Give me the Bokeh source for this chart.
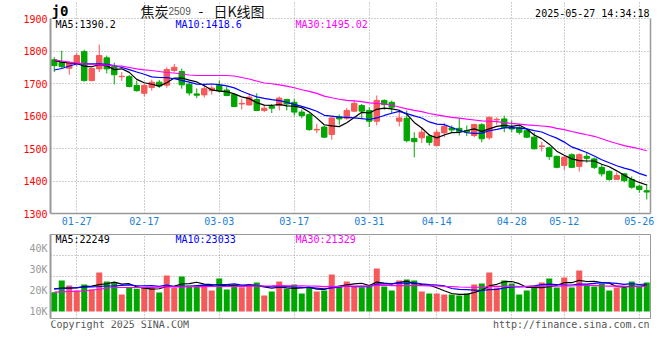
import numpy as np
import pandas as pd
from bokeh.plotting import figure
from bokeh.layouts import column
from bokeh.models import Range1d, FixedTicker, Label, LinearAxis, ColumnDataSource
from bokeh.embed import file_html
from bokeh.resources import INLINE

# ---------------- data ----------------
dates = ["01-22", "01-23", "01-24", "01-27",
         "02-05", "02-06", "02-07", "02-10", "02-11", "02-12", "02-13", "02-14",
         "02-17", "02-18", "02-19", "02-20", "02-21", "02-24", "02-25", "02-26", "02-27", "02-28",
         "03-03", "03-04", "03-05", "03-06", "03-07", "03-10", "03-11", "03-12", "03-13", "03-14",
         "03-17", "03-18", "03-19", "03-20", "03-21", "03-24", "03-25", "03-26", "03-27", "03-28",
         "03-31", "04-01", "04-02", "04-03", "04-07", "04-08", "04-09", "04-10", "04-11",
         "04-14", "04-15", "04-16", "04-17", "04-18", "04-21", "04-22", "04-23", "04-24", "04-25",
         "04-28", "04-29", "04-30", "05-06", "05-07", "05-08", "05-09",
         "05-12", "05-13", "05-14", "05-15", "05-16", "05-19", "05-20", "05-21", "05-22", "05-23",
         "05-26", "05-27"]

open_ = [1773, 1765, 1747, 1761, 1798, 1709, 1745, 1779, 1752, 1721,
         1721, 1694, 1670, 1688, 1704, 1695, 1740, 1737, 1698, 1668,
         1665, 1678, 1694, 1680, 1666, 1637, 1634, 1651, 1617, 1629,
         1632, 1651, 1642, 1612, 1604, 1557, 1566, 1543, 1598, 1593,
         1615, 1632, 1617, 1584, 1648, 1642, 1584, 1593, 1531, 1533,
         1538, 1509, 1548, 1563, 1562, 1555, 1540, 1573, 1533, 1588,
         1591, 1565, 1565, 1555, 1535, 1506, 1502, 1476, 1448, 1481,
         1445, 1476, 1468, 1442, 1430, 1405, 1422, 1405, 1384, 1370]
high = [1781, 1801, 1768, 1795, 1804, 1748, 1820, 1786, 1764, 1735,
        1726, 1709, 1699, 1712, 1711, 1750, 1760, 1746, 1703, 1685,
        1696, 1694, 1709, 1691, 1670, 1653, 1670, 1670, 1634, 1637,
        1660, 1653, 1653, 1620, 1610, 1576, 1571, 1598, 1605, 1625,
        1648, 1637, 1627, 1663, 1651, 1648, 1617, 1617, 1550, 1565,
        1545, 1558, 1579, 1571, 1594, 1571, 1576, 1578, 1598, 1596,
        1601, 1586, 1576, 1561, 1550, 1521, 1506, 1478, 1478, 1485,
        1485, 1488, 1472, 1450, 1432, 1427, 1425, 1414, 1389, 1391]
low = [1735, 1747, 1727, 1752, 1706, 1707, 1735, 1731, 1697, 1708,
       1688, 1675, 1660, 1678, 1686, 1687, 1735, 1684, 1663, 1655,
       1657, 1666, 1673, 1661, 1627, 1620, 1632, 1615, 1612, 1609,
       1617, 1617, 1601, 1593, 1555, 1547, 1532, 1527, 1573, 1588,
       1612, 1594, 1566, 1571, 1619, 1609, 1568, 1519, 1473, 1517,
       1509, 1507, 1535, 1550, 1540, 1538, 1535, 1519, 1527, 1573,
       1550, 1550, 1543, 1532, 1497, 1491, 1465, 1439, 1434, 1440,
       1429, 1456, 1437, 1414, 1401, 1404, 1396, 1376, 1364, 1343]
close = [1755, 1752, 1764, 1786, 1709, 1746, 1786, 1745, 1727, 1722,
         1691, 1678, 1694, 1704, 1692, 1743, 1750, 1696, 1671, 1664,
         1684, 1686, 1678, 1663, 1629, 1639, 1658, 1617, 1624, 1624,
         1655, 1637, 1612, 1601, 1558, 1559, 1535, 1594, 1591, 1617,
         1639, 1615, 1584, 1648, 1635, 1627, 1594, 1524, 1521, 1550,
         1519, 1550, 1568, 1557, 1552, 1550, 1574, 1530, 1596, 1590,
         1565, 1560, 1550, 1535, 1499, 1508, 1475, 1442, 1473, 1442,
         1481, 1470, 1442, 1422, 1405, 1417, 1401, 1381, 1374, 1366]
volume = [19190, 24760, 22380, 19860, 22860, 20480, 28570, 24290, 23810, 18100,
          21430, 20810, 21570, 21290, 19050, 27140, 21290, 26670, 22380, 22240,
          22710, 20000, 25710, 20480, 22860, 21570, 22860, 23810, 17620, 19520,
          24290, 20810, 22860, 18570, 21430, 19520, 20000, 27620, 21900, 24290,
          21900, 21570, 21900, 30480, 21900, 20000, 24760, 25240, 24760, 19520,
          18570, 18570, 18100, 18100, 17620, 18570, 22860, 23330, 28570, 21430,
          24760, 23330, 18100, 20000, 21430, 23810, 25710, 21430, 26190, 21430,
          29520, 22860, 21900, 23330, 20000, 21430, 21430, 24290, 22380, 23810]

# moving-average values at the left edge (earlier history is not on the chart)
ma5_lead = [1770.8, 1766.0, 1763.0, 1761.5]
ma10_lead = [1741.5, 1746.2, 1753.8, 1760.0, 1760.6, 1760.6, 1760.6, 1759.0, 1755.4]
ma30_lead = [1772.9, 1769.2, 1765.5, 1763.1, 1760.6, 1758.5, 1757.5, 1756.3, 1754.5, 1753.2,
             1749.2, 1745.2, 1742.2, 1740.0, 1736.9, 1733.8, 1732.3, 1729.2, 1726.2, 1724.6,
             1724.6, 1724.6, 1724.6, 1724.6, 1723.1, 1718.5, 1713.8, 1707.7, 1701.5]
vma5_lead = [20810, 21100, 21100, 21290]
vma10_lead = [20810, 20950, 21190, 21430, 21570, 21760, 21900, 22140, 22140]
vma30_lead = [19190, 19380, 19520, 19670, 19760, 20240, 20480, 21190, 21430, 21430,
              21430, 21430, 21430, 21520, 21620, 21710, 21760, 21760, 21810, 21810,
              21860, 21900, 21900, 21900, 21950, 22000, 22050, 22100, 22140]

tick_dates = ["01-27", "02-17", "03-03", "03-17", "03-31", "04-14", "04-28", "05-12", "05-26"]
price_ticks = [1300, 1400, 1500, 1600, 1700, 1800, 1900]
vol_ticks = [10000, 20000, 30000, 40000]
vol_tick_labels = ["10K", "20K", "30K", "40K"]

code_text = "j0"
title_parts = ["焦炭", "2509", "-", "日K线图"]
time_text = "2025-05-27 14:34:18"
price_ma_texts = ["MA5:1390.2", "MA10:1418.6", "MA30:1495.02"]
vol_ma_texts = ["MA5:22249", "MA10:23033", "MA30:21329"]
copyright_text = "Copyright 2025 SINA.COM"
url_text = "http://finance.sina.com.cn"

# ---------------- styling / layout ----------------
RED = "#f65959"
GREEN = "#00a600"
GRID = "#a0a0a0"
BORDER = "#999999"
MONO = "DejaVu Sans Mono"
CJK = "Noto Sans CJK SC"
MA_COLORS = ["#000000", "#0000ff", "#ff00ff"]
W = 658
LEFT, RIGHT = 50, 8
FRAME_W = W - LEFT - RIGHT
HEADER_PX = 18      # header strip above the 1900 line
PRICE_PX = 195      # height of the price area (1300..1900)
BOTTOM_PX = 16

n = len(dates)
x = np.arange(n)
o = np.array(open_, float)
c = np.array(close, float)
cols = np.where(c >= o, RED, GREEN)


def ma(series, w, lead):
    m = pd.Series(series, dtype=float).rolling(w).mean().to_numpy()
    m[:len(lead)] = lead
    return m


pma = [ma(close, 5, ma5_lead), ma(close, 10, ma10_lead), ma(close, 30, ma30_lead)]
vma = [ma(volume, 5, vma5_lead), ma(volume, 10, vma10_lead), ma(volume, 30, vma30_lead)]

src = ColumnDataSource(dict(x=x, o=o, c=c, h=high, l=low,
                            top=np.maximum(o, c), bot=np.minimum(o, c),
                            col=cols, vol=volume))

tick_pos = [dates.index(d) for d in tick_dates]


def style_grid(fig):
    for g in (fig.xgrid, fig.ygrid):
        g.grid_line_color = GRID
        g.grid_line_dash = "1 2"
        g.grid_line_width = 1


def style_yaxis(ax, color):
    ax.major_label_text_color = color
    ax.major_label_text_font = MONO
    ax.major_label_text_font_size = "10px"
    ax.major_tick_line_color = None
    ax.minor_tick_line_color = None
    ax.major_tick_out = 0
    ax.major_tick_in = 0
    ax.major_label_standoff = 3
    ax.axis_line_color = BORDER
    ax.axis_line_width = 2


# ---------------- price panel (frame includes the header strip) ----------------
p_lo, p_hi = price_ticks[0], price_ticks[-1]
p_top = p_hi + HEADER_PX * (p_hi - p_lo) / PRICE_PX
FH = HEADER_PX + PRICE_PX
p = figure(width=W, height=FH + BOTTOM_PX, output_backend="svg", toolbar_location=None,
           x_range=Range1d(-0.5, n - 0.5), y_range=Range1d(p_lo, p_top),
           min_border_left=LEFT, min_border_right=RIGHT, min_border_top=0,
           min_border_bottom=BOTTOM_PX,
           outline_line_color=None, background_fill_color="white", border_fill_color="white")

p.segment(x0="x", y0="l", x1="x", y1="h", color="col", line_width=1, source=src)
p.vbar(x="x", width=0.72, top="top", bottom="bot", fill_color="col", line_color="col",
       line_width=1, source=src)
for m, col in zip(pma, MA_COLORS):
    p.line(x, m, color=col, line_width=1.2)

p.yaxis.ticker = FixedTicker(ticks=price_ticks)
p.yaxis.bounds = (p_lo, p_hi)
style_yaxis(p.yaxis[0], "#ff0000")

p.xaxis.ticker = FixedTicker(ticks=tick_pos)
p.xaxis.major_label_overrides = {t: d for t, d in zip(tick_pos, tick_dates)}
p.xaxis.major_label_text_color = "#1a7fd6"
p.xaxis.major_label_text_font = MONO
p.xaxis.major_label_text_font_size = "10px"
p.xaxis.major_tick_line_color = None
p.xaxis.minor_tick_line_color = None
p.xaxis.major_tick_out = 0
p.xaxis.major_tick_in = 0
p.xaxis.major_label_standoff = 3
p.xaxis.axis_line_color = BORDER
p.xaxis.axis_line_width = 1.5

ra = LinearAxis(ticker=FixedTicker(ticks=[]), major_label_text_font_size="0px",
                major_tick_line_color=None, minor_tick_line_color=None,
                major_tick_out=0, major_tick_in=0, bounds=(p_lo, p_hi),
                axis_line_color=BORDER, axis_line_width=1.5, major_label_standoff=0)
p.add_layout(ra, "right")

p.xgrid.ticker = FixedTicker(ticks=tick_pos)
p.xgrid.bounds = (p_lo, p_hi)
p.ygrid.ticker = FixedTicker(ticks=price_ticks)
style_grid(p)

p.add_layout(Label(x=1, y=FH - 10, x_units="screen", y_units="screen", text=code_text,
                   text_font=MONO, text_font_size="14px", text_font_style="bold",
                   text_color="#000000", text_baseline="alphabetic"))
# title in runs (the contract number is drawn smaller, in grey)
title_x = [90, 118, 148, 163]
title_font = [CJK, "Liberation Sans", CJK, CJK]
title_size = ["14px", "10px", "14px", "14px"]
title_col = ["#111111", "#555555", "#111111", "#111111"]
for txt, xx, fnt, sz, col in zip(title_parts, title_x, title_font, title_size, title_col):
    p.add_layout(Label(x=xx, y=FH - 10, x_units="screen", y_units="screen", text=txt,
                       text_font=fnt, text_font_size=sz, text_color=col,
                       text_baseline="alphabetic"))
p.add_layout(Label(x=FRAME_W - 1, y=FH - 13, x_units="screen", y_units="screen", text=time_text,
                   text_font=MONO, text_font_size="10px", text_color="#000000",
                   text_baseline="alphabetic", text_align="right"))
for txt, col, xx in zip(price_ma_texts, MA_COLORS, [5, 125, 245]):
    p.add_layout(Label(x=xx, y=FH - 24, x_units="screen", y_units="screen", text=txt,
                       text_font=MONO, text_font_size="10px", text_color=col,
                       text_baseline="middle"))

# ---------------- volume panel ----------------
VH = 84
v = figure(width=W, height=5 + VH + 2, output_backend="svg", toolbar_location=None,
           x_range=p.x_range, y_range=Range1d(6666.7, 46666.7),
           min_border_left=LEFT, min_border_right=RIGHT, min_border_top=5, min_border_bottom=2,
           outline_line_color=BORDER, outline_line_width=1,
           background_fill_color="white", border_fill_color="white")

v.vbar(x="x", width=0.8, top="vol", bottom=vol_ticks[0], fill_color="col", line_color=None,
       source=src)
for m, col in zip(vma, MA_COLORS):
    v.line(x, m, color=col, line_width=1.2)

v.xaxis.visible = False
v.yaxis.ticker = FixedTicker(ticks=vol_ticks)
v.yaxis.major_label_overrides = {t: s for t, s in zip(vol_ticks, vol_tick_labels)}
style_yaxis(v.yaxis[0], "#999999")

vs, ve = v.y_range.start, v.y_range.end
v.ygrid.ticker = FixedTicker(ticks=[vs + k * (ve - vs) / 4 for k in (1, 2, 3)])
v.xgrid.ticker = FixedTicker(ticks=tick_pos)
style_grid(v)

for txt, col, xx in zip(vol_ma_texts, MA_COLORS, [5, 125, 245]):
    v.add_layout(Label(x=xx, y=VH - 5, x_units="screen", y_units="screen", text=txt,
                       text_font=MONO, text_font_size="10px", text_color=col,
                       text_baseline="middle"))

# ---------------- footer ----------------
FOOT_H = 14
f = figure(width=W, height=FOOT_H, output_backend="svg", toolbar_location=None,
           x_range=Range1d(0, 1), y_range=Range1d(0, 1),
           min_border_left=LEFT, min_border_right=RIGHT, min_border_top=0, min_border_bottom=0,
           outline_line_color=None, background_fill_color="white", border_fill_color="white")
f.axis.visible = False
f.grid.visible = False
f.add_layout(Label(x=0, y=FOOT_H - 4, x_units="screen", y_units="screen", text=copyright_text,
                   text_font=MONO, text_font_size="10px", text_color="#555555",
                   text_baseline="middle"))
f.add_layout(Label(x=FRAME_W - 1, y=FOOT_H - 4, x_units="screen", y_units="screen",
                   text=url_text, text_font=MONO, text_font_size="10px",
                   text_color="#555555", text_baseline="middle", text_align="right"))

layout = column(p, v, f, spacing=0)
open("out.html", "w").write(file_html(layout, INLINE))
